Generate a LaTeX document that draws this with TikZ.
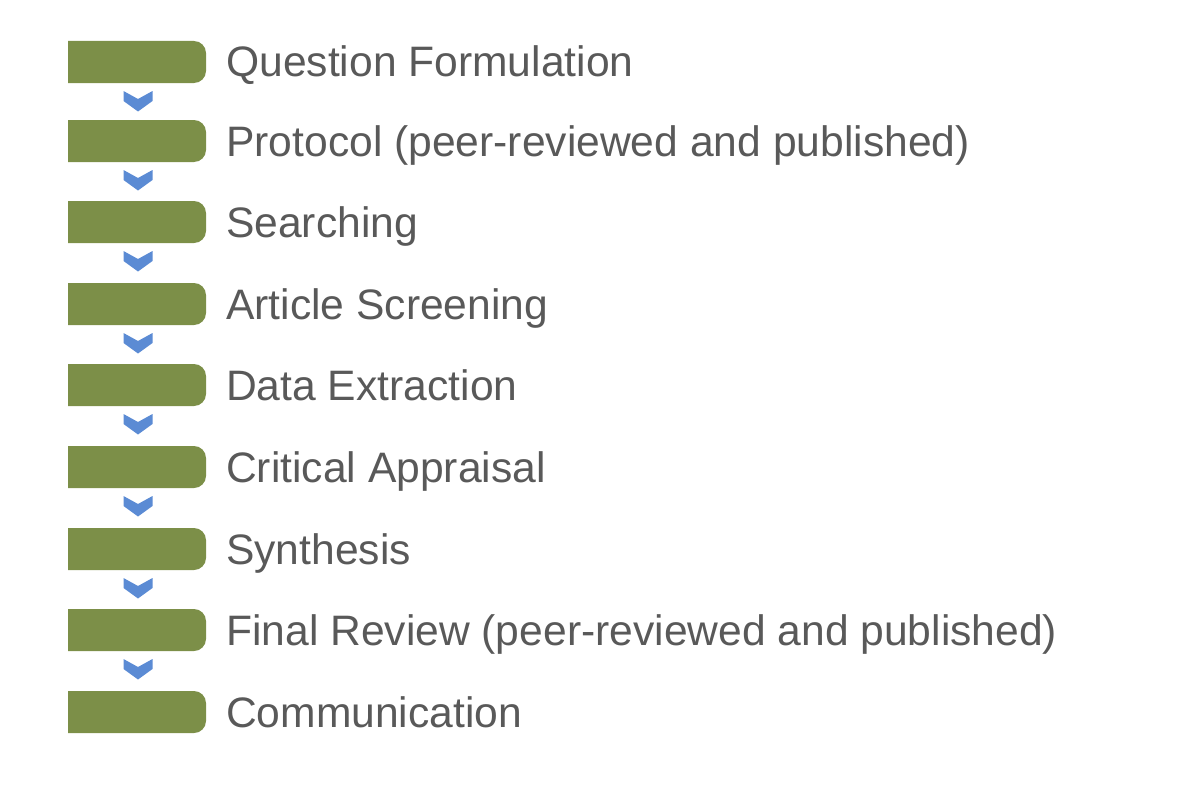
\documentclass[tikz,border=0pt]{standalone}
\usepackage{fontspec}
\setmainfont{Liberation Sans}
\definecolor{boxgreen}{HTML}{7C8F48}
\definecolor{chevblue}{HTML}{5B8BD4}
\definecolor{textgray}{HTML}{595959}
\tikzset{
  label/.style={anchor=base west, inner sep=0pt, text=textgray, font=\fontsize{42.6}{50}\selectfont},
  stepbox/.style={fill=boxgreen},
  chev/.style={fill=chevblue},
}
\begin{document}
\begin{tikzpicture}[x=1pt,y=-1pt]
\useasboundingbox (0,0) rectangle (1186,792);
\foreach \i/\t/\txt in {1/41/Question Formulation,
                        2/120/Protocol (peer-reviewed and published),
                        3/201/Searching,
                        4/283/Article Screening,
                        5/364/Data Extraction,
                        6/446/Critical Appraisal,
                        7/528/Synthesis,
                        8/609/Final Review (peer-reviewed and published),
                        9/691/Communication}{
  \coordinate (tl\i) at (68,\t);
  \coordinate (tr\i) at (206,\t);
  \coordinate (br\i) at (206,\t+42);
  \coordinate (bl\i) at (68,\t+42);
  \fill[stepbox] (bl\i) -- (tl\i) [rounded corners=12pt] -- (tr\i) -- (br\i) [sharp corners] -- (bl\i) -- cycle;
  \node[label] (t\i) at (226,\t+36) {\txt};
}
\foreach \i in {1,...,8}{
  \path (br\i) ++(-68,8) coordinate (c\i);
  \fill[chev] (c\i) ++(-14.5,0) -- ++(14.5,8) -- ++(14.5,-8) -- ++(0,10) -- ++(-14.5,10.5) -- ++(-14.5,-10.5) -- cycle;
}
\end{tikzpicture}
\end{document}
